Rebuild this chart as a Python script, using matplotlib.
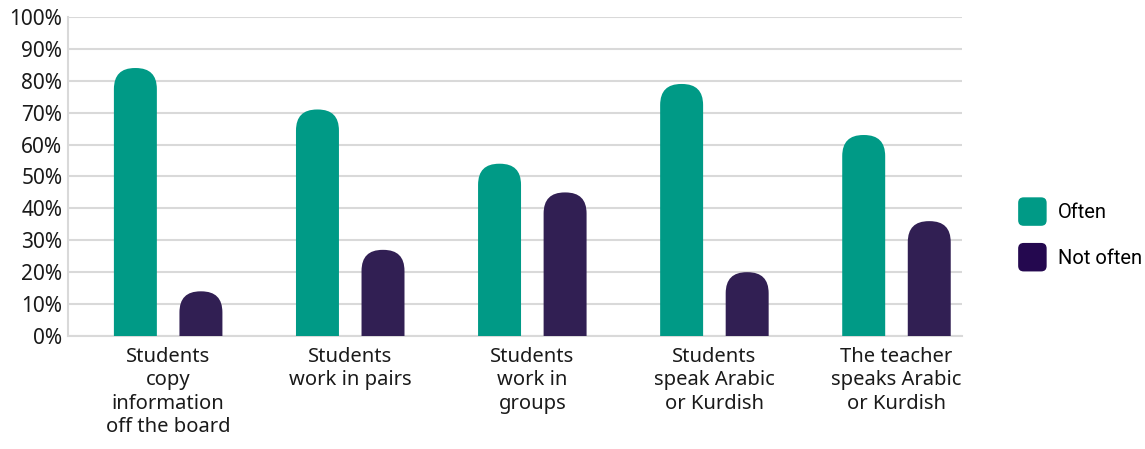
import numpy as np
import matplotlib.pyplot as plt
from matplotlib.patches import FancyBboxPatch, Patch
from matplotlib.legend_handler import HandlerPatch

categories = ["Students\ncopy\ninformation\noff the board",
              "Students\nwork in pairs",
              "Students\nwork in\ngroups",
              "Students\nspeak Arabic\nor Kurdish",
              "The teacher\nspeaks Arabic\nor Kurdish"]
often = [84, 71, 54, 79, 63]
not_often = [14, 27, 45, 20, 36]
series_names = ["Often", "Not often"]
colors = ["#009A86", "#311F53"]

plt.rcParams['font.family'] = ['Noto Sans', 'DejaVu Sans']

fig = plt.figure(figsize=(11.45, 4.49), dpi=100)
ax = fig.add_axes([0.0594, 0.2517, 0.7808, 0.7105])

x = np.arange(len(categories))
width = 0.236
offset = 0.18
xlim = (-0.55, 4.36)
ylim = (0, 100)
ax.set_xlim(*xlim)
ax.set_ylim(*ylim)

# rounding radius in pixels, converted to each axis' data units
axw = 0.7808 * 1145
axh = 0.7105 * 449
rad_px = 21
rx = rad_px * (xlim[1] - xlim[0]) / axw
ry = rad_px * (ylim[1] - ylim[0]) / axh

for vals, off, col in [(often, -offset, colors[0]), (not_often, offset, colors[1])]:
    bars = ax.bar(x + off, vals, width, color='none', zorder=3)
    for b in bars:
        # extend below zero so only the top corners look rounded
        p = FancyBboxPatch((b.get_x(), -ry), b.get_width(), b.get_height() + ry,
                           boxstyle=f"round,pad=0,rounding_size={rx}",
                           mutation_aspect=ry / rx, facecolor=col,
                           edgecolor='none', zorder=3)
        ax.add_patch(p)

ax.set_yticks(np.arange(0, 101, 10))
ax.set_yticklabels([f"{v}%" for v in range(0, 101, 10)], fontsize=15, color='#1a1a1a')
ax.set_xticks(x)
ax.set_xticklabels(categories, fontsize=14.5, color='#1a1a1a', linespacing=1.22)
ax.tick_params(axis='both', length=0)
ax.tick_params(axis='x', pad=8)
ax.tick_params(axis='y', pad=4)

ax.grid(axis='y', color='#d9d9d9', linewidth=1.5, zorder=0)
for s in ['top', 'right']:
    ax.spines[s].set_visible(False)
for s in ['left', 'bottom']:
    ax.spines[s].set_color('#d9d9d9')
    ax.spines[s].set_linewidth(1.5)


class RoundSwatch(HandlerPatch):
    def create_artists(self, legend, orig_handle, xdescent, ydescent,
                       width, height, fontsize, trans):
        s = min(width, height)
        p = FancyBboxPatch((-xdescent + (width - s) / 2, -ydescent + (height - s) / 2), s, s,
                           boxstyle="round,pad=0,rounding_size=4",
                           facecolor=orig_handle.get_facecolor(), edgecolor='none',
                           transform=trans)
        return [p]


handles = [Patch(facecolor=colors[0], edgecolor='none'),
           Patch(facecolor='#24084F', edgecolor='none')]
fig.legend(handles, series_names, loc='center left', bbox_to_anchor=(0.87, 0.478),
           frameon=False, handlelength=1.8, handleheight=1.8,
           labelspacing=0.85, handletextpad=0.35,
           handler_map={Patch: RoundSwatch()},
           prop={'family': ['Roboto', 'DejaVu Sans'], 'size': 14.5})

fig.savefig("out.png", dpi=100)
